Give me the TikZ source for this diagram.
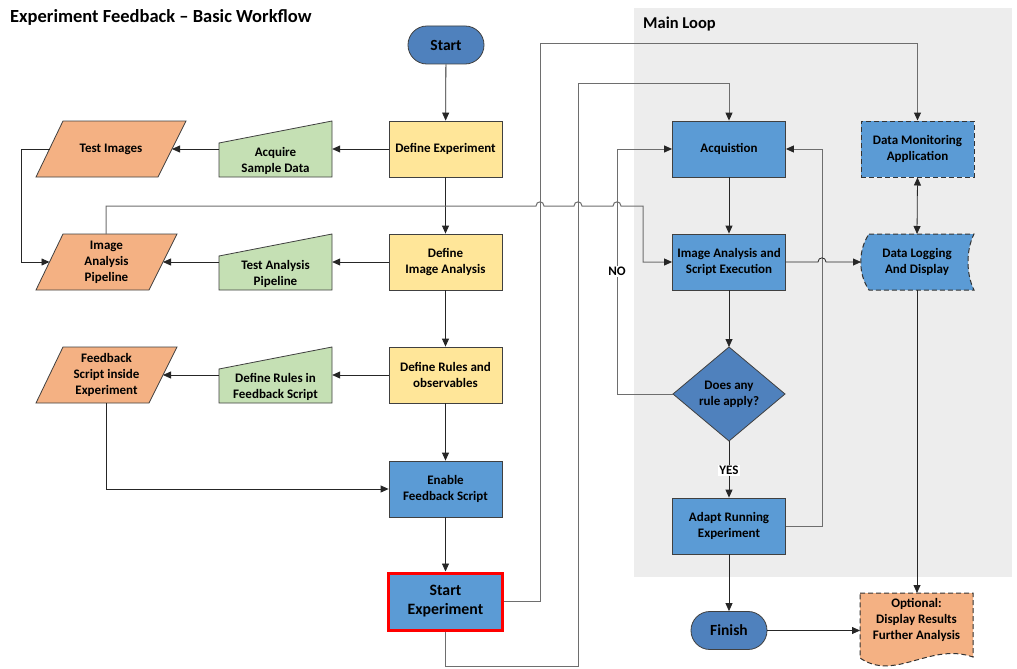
\documentclass[tikz,border=0pt]{standalone}
\usepackage{fontspec}
\setmainfont{Carlito}
\usetikzlibrary{arrows.meta}
\definecolor{yel}{HTML}{FFE699}
\definecolor{grn}{HTML}{C5E0B4}
\definecolor{org}{HTML}{F4B183}
\definecolor{blu}{HTML}{5B9BD5}
\definecolor{dblu}{HTML}{4F81BD}
\definecolor{loopbg}{HTML}{EDEDED}
\definecolor{edge}{HTML}{404040}
\definecolor{conn}{HTML}{6E6E6E}
\tikzset{
  lbl/.style={font=\bfseries\fontsize{13}{16}\selectfont, align=center, inner sep=0pt},
  box/.style={lbl, draw=edge, line width=0.8pt, minimum width=113pt, minimum height=56pt},
  ybox/.style={box, fill=yel},
  bbox/.style={box, fill=blu},
  ghost/.style={inner sep=0pt, minimum width=113pt, minimum height=56pt},
  term/.style={lbl, font=\bfseries\fontsize{15.5}{17}\selectfont, draw=edge, line width=0.8pt, fill=dblu, rounded corners=18.9pt, minimum width=76pt, minimum height=38pt},
  shp/.style={draw=edge, line width=0.8pt},
  dsh/.style={dash pattern=on 5pt off 3pt, line width=1pt, draw=black!80},
  tip/.style={-{Triangle[length=8pt,width=7pt]}},
  arr/.style={draw=black!85, line width=0.8pt, tip},
  carr/.style={draw=conn, line width=1pt, -{Triangle[length=8pt,width=7pt,color=black!85]}},
  tag/.style={font=\bfseries\fontsize{13}{14}\selectfont, fill=white, inner sep=1.5pt}
}
\begin{document}
\begin{tikzpicture}[x=1pt,y=-1pt]
\useasboundingbox (0,0) rectangle (1017,669);
\fill[white] (0,0) rectangle (1017,669);
% main loop area
\fill[loopbg] (634,8) rectangle (1012,577);
\node[anchor=west, font=\bfseries\fontsize{16.5}{18}\selectfont, inner sep=0pt] (ml) at (643,24) {Main Loop};
\node[anchor=west, font=\bfseries\fontsize{18.5}{20}\selectfont, inner sep=0pt] (title) at (10,17) {Experiment Feedback – Basic Workflow};

% centre column
\node[term] (start) at (446,45) {Start};
\node[ybox] (de) at (445.5,149) {Define Experiment};
\node[ybox] (dia) at (445.5,262) {Define\\Image Analysis};
\node[ybox] (dr) at (445.5,375) {Define Rules and\\observables};
\node[bbox] (ef) at (445.5,489) {Enable\\Feedback Script};
\node[box, fill=blu, draw=red, line width=3pt, font=\bfseries\fontsize{15.8}{19}\selectfont, minimum width=114pt, minimum height=57pt] (se) at (445.5,601.5) {Start\\Experiment};

% manual inputs (green)
\filldraw[shp, fill=grn] (219,143) -- (332,121) -- (332,177) -- (219,177) -- cycle;
\node[ghost] (asd) at (275.5,149) {};
\node[lbl] (asdt) at (275.5,161) {Acquire\\Sample Data};
\filldraw[shp, fill=grn] (219,256) -- (332,234) -- (332,290) -- (219,290) -- cycle;
\node[ghost] (tap) at (275.5,262) {};
\node[lbl] (tapt) at (275.5,274) {Test Analysis\\Pipeline};
\filldraw[shp, fill=grn] (219,369) -- (332,347) -- (332,403) -- (219,403) -- cycle;
\node[ghost] (drf) at (275.5,375) {};
\node[lbl] (drft) at (275.5,387) {Define Rules in\\Feedback Script};

% parallelograms (orange)
\filldraw[shp, fill=org] (63,121) -- (186,121) -- (158,177) -- (36,177) -- cycle;
\node[lbl] (ti) at (111,149) {Test Images};
\coordinate (ti-r) at (172,149);
\coordinate (ti-l) at (49.5,149);
\filldraw[shp, fill=org] (63,234) -- (177,234) -- (149,290) -- (36,290) -- cycle;
\node[lbl] (iap) at (106.5,262) {Image\\Analysis\\Pipeline};
\coordinate (iap-r) at (163,262);
\coordinate (iap-l) at (49.5,262);
\coordinate (iap-t) at (106,234);
\filldraw[shp, fill=org] (63,347) -- (177,347) -- (149,403) -- (36,403) -- cycle;
\node[lbl] (fs) at (106.5,375) {Feedback\\Script inside\\Experiment};
\coordinate (fs-r) at (163,375);
\coordinate (fs-b) at (106,403);

% right column
\node[bbox] (acq) at (729,149) {Acquistion};
\node[bbox] (ias) at (729,262) {Image Analysis and\\Script Execution};
\filldraw[shp, fill=dblu] (729,347) -- (785,394) -- (729,441) -- (673,394) -- cycle;
\node[lbl] (rule) at (729,394) {Does any\\rule apply?};
\coordinate (rule-n) at (729,347);
\coordinate (rule-s) at (729,441);
\coordinate (rule-w) at (673,394);
\node[bbox] (arun) at (729,526) {Adapt Running\\Experiment};
\node[term] (fin) at (729,630.5) {Finish};

% data column
\node[box, fill=blu, dsh] (dma) at (917.5,149) {Data Monitoring\\Application};
\filldraw[fill=blu, dsh] (869,234) -- (974,234) .. controls (966,250) and (966,274) .. (974,290)
   -- (869,290) .. controls (858,274) and (858,250) .. (869,234) -- cycle;
\node[lbl] (dld) at (917,262) {Data Logging\\And Display};
\coordinate (dld-l) at (861,262);
\coordinate (dld-t) at (917,234);
\coordinate (dld-b) at (917,290);
\filldraw[fill=org, dsh] (860,593) -- (973,593) -- (973,657)
   .. controls (930,642) and (895,682) .. (860,658) -- cycle;
\node[lbl] (opt) at (916.5,620) {Optional:\\Display Results\\Further Analysis};
\coordinate (opt-t) at (917,593);
\coordinate (opt-l) at (860,630.5);

% connectors: centre column
\draw[arr] (start) -- (de);
\draw[arr] (de) -- (dia);
\draw[arr] (dia) -- (dr);
\draw[arr] (dr) -- (ef);
\draw[arr] (ef) -- (se);
\draw[arr] (de.west) -- (asd.east);
\draw[arr] (dia.west) -- (tap.east);
\draw[arr] (dr.west) -- (drf.east);
\draw[arr] (asd.west) -- (ti-r);
\draw[arr] (tap.west) -- (iap-r);
\draw[arr] (drf.west) -- (fs-r);
\draw[arr] (ti-l) -- (21,149) |- (iap-l);
\draw[arr] (fs-b) |- (ef.west);

% long connectors
\draw[carr] (se.east) -| (540,44) -| (dma.north);
\draw[carr] (se.south) |- (578,666) -- (578,83) -| (acq.north);
\draw[carr] (iap-t) -- (106,206) -- (536,206) .. controls (536,200.5) and (544,200.5) .. (544,206)
   -- (574,206) .. controls (574,200.5) and (582,200.5) .. (582,206)
   -- (613,206) .. controls (613,200.5) and (621,200.5) .. (621,206)
   -- (643,206) |- (ias.west);

% connectors: right column
\draw[arr] (acq) -- (ias);
\draw[arr] (ias.south) -- (rule-n);
\draw[arr] (rule-s) -- node[tag, pos=0.52] (yes) {YES} (arun.north);
\draw[carr] (rule-w) -- (617,394) -- node[tag, pos=0.5] (no) {NO} (617,149) -- (acq.west);
\draw[carr] (arun.east) -- (822,526) -- (822,149) -- (acq.east);
\draw[arr] (ias.east) -- (818,262) .. controls (818,256.5) and (826,256.5) .. (826,262) -- (dld-l);
\draw[arr] (arun) -- (fin);
\draw[arr, {Triangle[length=8pt,width=7pt]}-{Triangle[length=8pt,width=7pt]}] (dma.south) -- (dld-t);
\draw[arr] (dld-b) -- (opt-t);
\draw[arr] (fin.east) -- (opt-l);
\end{tikzpicture}
\end{document}
